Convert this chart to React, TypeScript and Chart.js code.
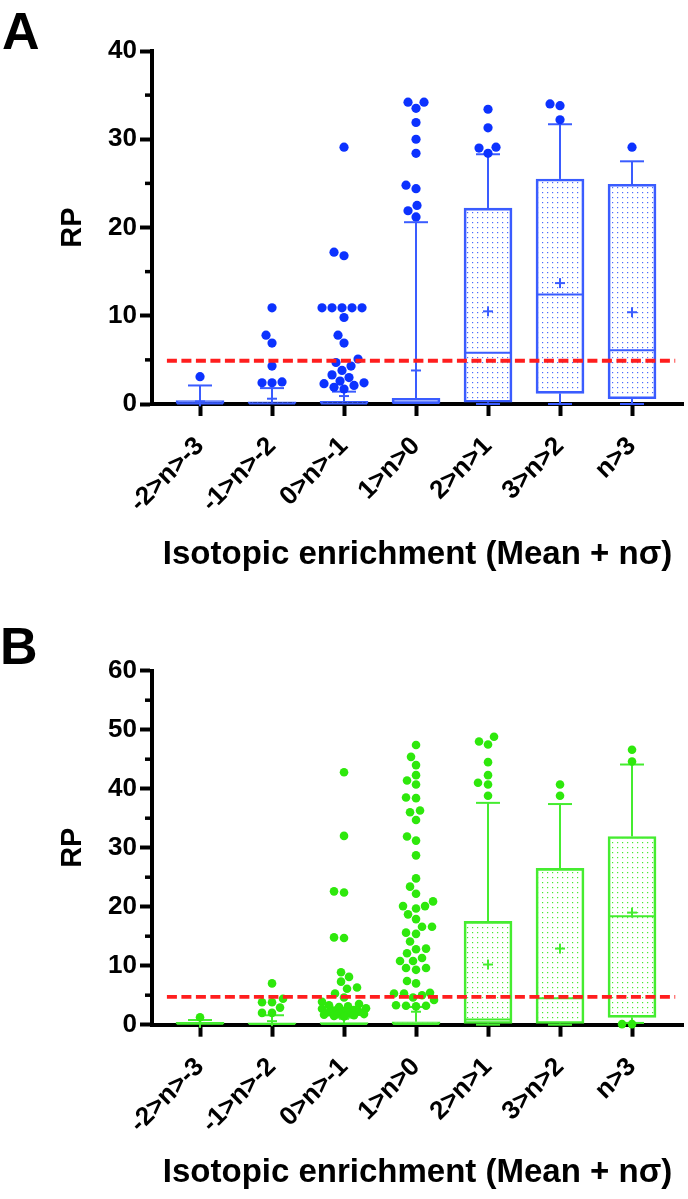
import React, { useEffect, useRef } from 'react';
import { Chart, registerables } from 'chart.js';

Chart.register(...registerables);

const FONT = "'Liberation Sans', Arial, Helvetica, sans-serif";

// ---------------- data ----------------
const categories = ['-2>n>-3', '-1>n>-2', '0>n>-1', '1>n>0', '2>n>1', '3>n>2', 'n>3'];
const xTitle = 'Isotopic enrichment (Mean + nσ)';
const yTitle = 'RP';

// Panel A
const yMaxA = 40;
const yStepA = 10;
const q1A = [0, 0, 0, 0, 0.2, 1.2, 0.6];
const q3A = [0.4, 0.25, 0.3, 0.65, 22.2, 25.5, 24.9];
const medianA = [0.05, 0.05, 0.05, 0.1, 5.8, 12.4, 6.1];
const meanA = [0.3, 0.6, 0.9, 3.8, 10.5, 13.7, 10.4];
const whiskerLowA = [0, 0, 0, 0, 0, 0, 0];
const whiskerHighA = [2.1, 1.8, 1.4, 20.6, 28.3, 31.7, 27.5];
const outliersA = [
  [3.1],
  [10.9, 7.8, 6.9, 4.3, 2.5, 2.4, 2.4],
  [29.1, 17.2, 16.8, 10.9, 10.9, 10.9, 10.9, 10.9, 9.8, 7.8, 6.9, 5.1, 4.7, 4.3, 3.8, 3.3, 3.0, 2.6, 2.4, 2.3, 2.1, 1.9, 1.7],
  [34.2, 34.2, 33.5, 31.9, 30.0, 28.4, 24.8, 24.4, 22.5, 21.9, 21.2],
  [33.4, 31.3, 29.1, 29.0, 28.4],
  [34.0, 33.8, 32.2],
  [29.1],
];
const thresholdA = 4.9;

// Panel B
const yMaxB = 60;
const yStepB = 10;
const q1B = [0, 0, 0, 0, 0.2, 0.2, 1.25];
const q3B = [0.4, 0.3, 0.35, 0.5, 17.5, 26.5, 31.9];
const medianB = [0.15, 0.1, 0.1, 0.1, 0.9, 4.5, 18.4];
const meanB = [0.3, 0.6, 1.0, 2.2, 10.2, 12.9, 19.0];
const whiskerLowB = [0, 0, 0, 0, 0, 0, 0.3];
const whiskerHighB = [0.8, 1.6, 1.2, 3.0, 37.6, 37.4, 44.1];
const outliersB = [
  [1.25],
  [7.0, 4.4, 3.8, 3.8, 2.9, 2.0, 2.0],
  [42.8, 32.0, 22.6, 22.4, 14.8, 14.7, 8.9, 8.1, 7.3, 6.3, 6.1, 5.3, 4.6, 3.9, 3.5, 3.3, 3.1, 3.0, 2.8, 2.7, 2.5, 2.4, 2.3, 2.2, 2.1, 2.0, 1.9, 1.8, 1.7, 1.6, 1.5, 1.4],
  [47.4, 45.4, 44.0, 42.3, 41.4, 40.7, 38.5, 38.4, 36.3, 36.0, 34.7, 31.9, 31.2, 28.7, 24.8, 23.4, 22.2, 20.9, 20.1, 20.1, 19.7, 18.7, 17.9, 16.6, 16.6, 15.6, 15.4, 14.1, 12.9, 12.8, 12.1, 11.3, 10.8, 10.8, 9.6, 9.6, 9.3, 7.4, 7.0, 5.4, 5.3, 5.3, 5.0, 4.6, 4.2, 3.3, 3.2, 3.2, 3.1],
  [48.8, 48.0, 47.5, 44.5, 42.3, 41.0, 40.7, 38.8],
  [40.7, 38.8],
  [46.6, 44.6, 0.1, 0.1],
];
const thresholdB = 4.7;
const thresholdSpan = [-0.46, 6.6];

// ---------------- layout ----------------
const CANVAS_W = 688;
const AXIS_LEFT = 152;
const AXIS_RIGHT = 683;
const X_MIN = -0.667;
const X_MAX = 6.708;
const BOX_W = 48;
const CAP_HALF = 12;
const MEAN_HALF = 5;

type PanelCfg = {
  letter: string;
  top: number;
  height: number;
  plotTop: number;
  plotBottom: number;
  yMax: number;
  yStep: number;
  q1: number[];
  q3: number[];
  median: number[];
  mean: number[];
  low: number[];
  high: number[];
  outliers: number[][];
  threshold: number;
  pointColor: string;
  lineColor: string;
  dotColor: string;
  radius: number;
  maxSpread: number;
  titlePad: number;
};

const panels: PanelCfg[] = [
  {
    letter: 'A', top: 0, height: 580, plotTop: 51, plotBottom: 404,
    yMax: yMaxA, yStep: yStepA, q1: q1A, q3: q3A, median: medianA, mean: meanA,
    low: whiskerLowA, high: whiskerHighA, outliers: outliersA, threshold: thresholdA,
    pointColor: '#0c32ff', lineColor: '#3a5cff', dotColor: '#4a6cff', radius: 4.6, maxSpread: 22, titlePad: 5,
  },
  {
    letter: 'B', top: 580, height: 619, plotTop: 90.7, plotBottom: 444.7,
    yMax: yMaxB, yStep: yStepB, q1: q1B, q3: q3B, median: medianB, mean: meanB,
    low: whiskerLowB, high: whiskerHighB, outliers: outliersB, threshold: thresholdB,
    pointColor: '#2ee80c', lineColor: '#45ec30', dotColor: '#45ec30', radius: 4.3, maxSpread: 22, titlePad: 6,
  },
];

// beeswarm: place each value at the smallest horizontal shift (px) that avoids overlap
function swarm(values: number[], center: number, pxPerY: number, pxPerX: number, diameter: number, maxSpread: number) {
  const order = values.map((_, i) => i).sort((a, b) => values[a] - values[b]);
  const placed: { x: number; y: number }[] = [];
  const out: { x: number; y: number }[] = new Array(values.length);
  const d2 = diameter * diameter;
  for (const i of order) {
    const py = values[i] * pxPerY;
    let chosen: number | null = null;
    let best = 0;
    let bestScore = -Infinity;
    for (let n = 0; n <= maxSpread * 2; n++) {
      const dx = n === 0 ? 0 : n % 2 === 1 ? -Math.ceil(n / 2) : Math.ceil(n / 2);
      let minD = Infinity;
      for (const p of placed) minD = Math.min(minD, (p.x - dx) ** 2 + (p.y - py) ** 2);
      if (minD >= d2) {
        chosen = dx;
        break;
      }
      if (minD > bestScore) {
        bestScore = minD;
        best = dx;
      }
    }
    const dx = chosen === null ? best : chosen;
    placed.push({ x: dx, y: py });
    out[i] = { x: center + dx / pxPerX, y: values[i] };
  }
  return out;
}

function dotPattern(color: string) {
  const c = document.createElement('canvas');
  c.width = 5;
  c.height = 5;
  const g = c.getContext('2d')!;
  g.fillStyle = color;
  g.fillRect(2, 2, 1.2, 1.2);
  return g.createPattern(c, 'repeat')!;
}

function buildChart(canvas: HTMLCanvasElement, p: PanelCfg) {
  const plotH = p.plotBottom - p.plotTop;
  const plotW = AXIS_RIGHT - AXIS_LEFT;
  const pxPerY = plotH / p.yMax;
  const pxPerX = plotW / (X_MAX - X_MIN);

  const points: { x: number; y: number }[] = [];
  p.outliers.forEach((vals, i) => {
    swarm(vals, i, pxPerY, pxPerX, p.radius * 2 + 0.6, p.maxSpread).forEach((pt) => points.push(pt));
  });

  const boxes = categories.map((_, i) => ({ x: i, y: [p.q1[i], p.q3[i]] }));

  const boxPlugin = {
    id: 'boxWhiskers',
    afterDatasetDraw(chart: any, args: any) {
      if (args.index !== 0) return;
      const { ctx } = chart;
      const xs = chart.scales.x;
      const ys = chart.scales.y;
      const line = (x1: number, y1: number, x2: number, y2: number) => {
        ctx.beginPath();
        ctx.moveTo(x1, y1);
        ctx.lineTo(x2, y2);
        ctx.stroke();
      };
      ctx.save();
      ctx.strokeStyle = p.lineColor;
      ctx.lineWidth = 2;
      categories.forEach((_, i) => {
        const cx = xs.getPixelForValue(i);
        const yq1 = ys.getPixelForValue(p.q1[i]);
        const yq3 = ys.getPixelForValue(p.q3[i]);
        const yHi = ys.getPixelForValue(p.high[i]);
        const yLo = ys.getPixelForValue(p.low[i]);
        const yMed = ys.getPixelForValue(p.median[i]);
        const yMean = ys.getPixelForValue(p.mean[i]);
        line(cx, yq3, cx, yHi);
        line(cx - CAP_HALF, yHi, cx + CAP_HALF, yHi);
        if (p.q1[i] > p.low[i]) {
          line(cx, yq1, cx, yLo);
          line(cx - CAP_HALF, yLo, cx + CAP_HALF, yLo);
        }
        line(cx - BOX_W / 2 + 1, yMed, cx + BOX_W / 2 - 1, yMed);
        line(cx - MEAN_HALF, yMean, cx + MEAN_HALF, yMean);
        line(cx, yMean - MEAN_HALF, cx, yMean + MEAN_HALF);
      });
      ctx.restore();
    },
  };

  const minorTicks = {
    id: 'minorTicks',
    afterDraw(chart: any) {
      const { ctx } = chart;
      const ys = chart.scales.y;
      const left = chart.chartArea.left;
      ctx.save();
      ctx.strokeStyle = '#000';
      ctx.lineWidth = 3.5;
      for (let v = p.yStep / 2; v < p.yMax; v += p.yStep) {
        const py = ys.getPixelForValue(v);
        ctx.beginPath();
        ctx.moveTo(left - 7, py);
        ctx.lineTo(left, py);
        ctx.stroke();
      }
      ctx.restore();
    },
  };

  return new Chart(canvas, {
    type: 'scatter',
    data: {
      datasets: [
        {
          type: 'bar',
          data: boxes as any,
          backgroundColor: dotPattern(p.dotColor) as any,
          borderColor: p.lineColor,
          borderWidth: 2,
          borderSkipped: false,
          barThickness: BOX_W,
          order: 3,
        } as any,
        {
          type: 'scatter',
          data: points,
          backgroundColor: p.pointColor,
          borderWidth: 0,
          pointRadius: p.radius,
          clip: false,
          order: 2,
        } as any,
        {
          type: 'line',
          data: thresholdSpan.map((x) => ({ x, y: p.threshold })),
          borderColor: '#ff1e1e',
          borderWidth: 3.8,
          borderDash: [10, 4.5],
          pointRadius: 0,
          fill: false,
          clip: false,
          order: 1,
        } as any,
      ],
    },
    options: {
      responsive: false,
      animation: false,
      devicePixelRatio: 1,
      events: [],
      layout: { padding: { top: p.plotTop, right: CANVAS_W - AXIS_RIGHT, bottom: 0, left: 0 } },
      plugins: { legend: { display: false }, tooltip: { enabled: false }, title: { display: false } },
      scales: {
        x: {
          type: 'linear',
          min: X_MIN,
          max: X_MAX,
          offset: false,
          afterBuildTicks: (s: any) => {
            s.ticks = categories.map((_, i) => ({ value: i }));
          },
          afterFit: (s: any) => {
            s.height = p.height - p.plotBottom;
            s.paddingLeft = 0;
            s.paddingRight = 0;
          },
          grid: { drawOnChartArea: false, drawTicks: true, tickLength: 12, tickWidth: 4, tickColor: '#000', offset: false },
          border: { display: true, width: 4, color: '#000' },
          ticks: {
            autoSkip: false,
            minRotation: 45,
            maxRotation: 45,
            padding: 15,
            color: '#000',
            font: { family: FONT, size: 26, weight: 'bold' },
            callback: (v: any) => categories[v] ?? '',
          },
          title: {
            display: true,
            text: xTitle,
            color: '#000',
            font: { family: FONT, size: 33, weight: 'bold' },
            padding: { top: 0, bottom: p.titlePad },
          },
        },
        y: {
          type: 'linear',
          min: 0,
          max: p.yMax,
          afterFit: (s: any) => {
            s.width = AXIS_LEFT;
            s.paddingTop = 0;
            s.paddingBottom = 0;
          },
          grid: { drawOnChartArea: false, drawTicks: true, tickLength: 12, tickWidth: 4, tickColor: '#000' },
          border: { display: true, width: 4, color: '#000' },
          ticks: { stepSize: p.yStep, padding: 3, color: '#000', font: { family: FONT, size: 26, weight: 'bold' } },
          title: {
            display: true,
            text: yTitle,
            color: '#000',
            font: { family: FONT, size: 29, weight: 'bold' },
            padding: { top: 56, bottom: 0 },
          },
        },
      },
    },
    plugins: [boxPlugin, minorTicks],
  } as any);
}

function Panel({ cfg }: { cfg: PanelCfg }) {
  const ref = useRef<HTMLCanvasElement>(null);
  useEffect(() => {
    const chart = buildChart(ref.current!, cfg);
    return () => chart.destroy();
  }, [cfg]);
  return (
    <canvas
      ref={ref}
      width={CANVAS_W}
      height={cfg.height}
      style={{ position: 'absolute', left: 0, top: cfg.top, display: 'block' }}
    />
  );
}

export default function App() {
  return (
    <div style={{ position: 'absolute', left: 0, top: 0, width: CANVAS_W, height: 1199, background: '#fff' }}>
      {panels.map((p) => (
        <Panel key={p.letter} cfg={p} />
      ))}
      <div style={{ position: 'absolute', left: 2, top: 5, font: `bold 52px ${FONT}`, lineHeight: '52px', color: '#000' }}>A</div>
      <div style={{ position: 'absolute', left: 0, top: 620, font: `bold 52px ${FONT}`, lineHeight: '52px', color: '#000' }}>B</div>
    </div>
  );
}
